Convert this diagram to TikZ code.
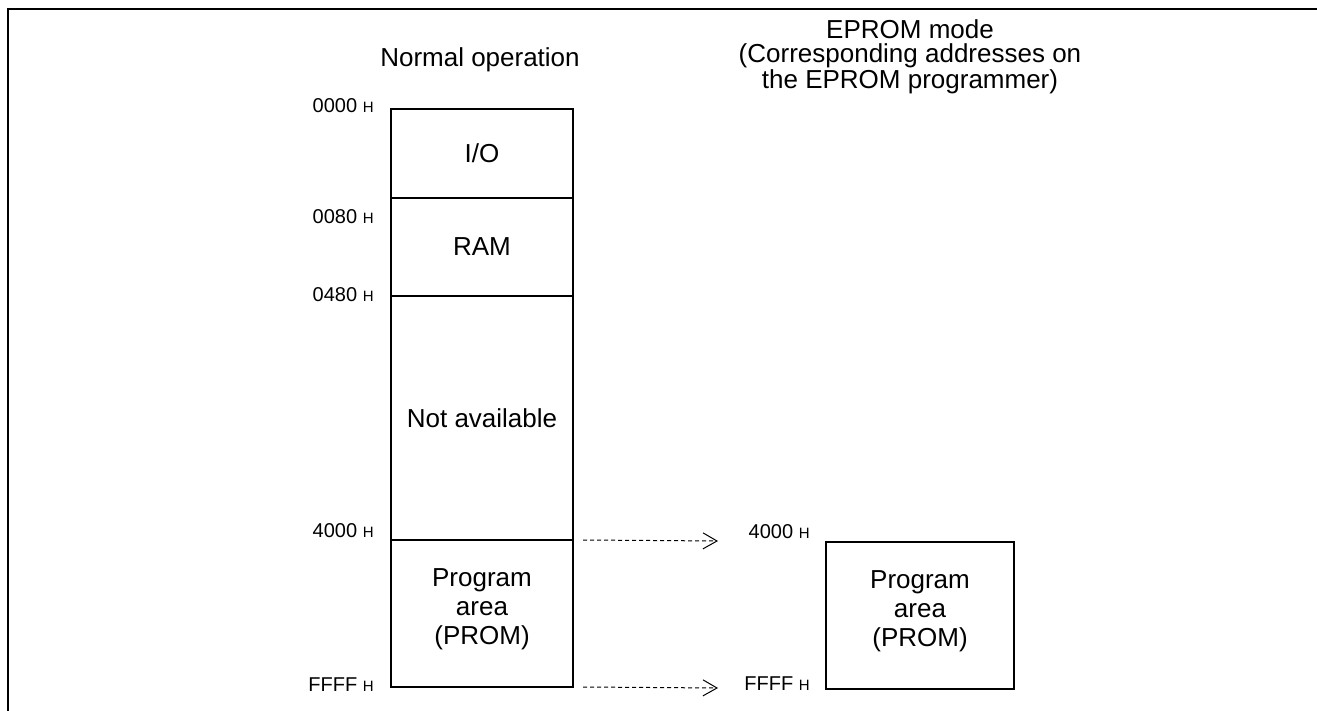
\documentclass[tikz,border=0pt]{standalone}
\usepackage{fontspec}
\setmainfont{Liberation Sans}
\usetikzlibrary{arrows.meta,positioning}
\newcommand{\memaddr}[1]{{\fontsize{10}{12}\selectfont #1}\ {\fontsize{7.5}{8}\selectfont H}}

\begin{document}
\begin{tikzpicture}[x=0.5pt,y=-0.5pt,
    seg/.style={draw,line width=0.6pt,minimum width=91pt,inner sep=0pt,outer sep=0pt},
    txt/.style={align=center,font=\fontsize{13}{14.5}\selectfont},
    addr/.style={anchor=east,inner sep=0pt},
    ptr/.style={-{Straight Barb[length=7pt,width=8pt]},line width=0.5pt,dash pattern=on 2pt off 1.5pt}]
  \useasboundingbox (0,0) rectangle (1317,711);
  \draw[line width=1.3pt] (8,730) -- (8,9) -- (1340,9);
  % normal operation
  \node[txt] (normal) at (480,60) {Normal operation};
  \node[seg,minimum height=44.5pt] (io) at (482,153.5) {};
  \node[seg,minimum height=49pt,below=0pt of io] (ram) {};
  \node[seg,minimum height=122pt,below=0pt of ram] (na) {};
  \node[seg,minimum height=73.5pt,below=0pt of na] (prog) {};
  \draw[line width=1.2pt] (io.north west) rectangle (prog.south east);
  \node[txt] at (io) {I/O};
  \node[txt] at (ram) {RAM};
  \node[txt] at (na) {Not available};
  \node[txt] at ([yshift=2pt]prog.center) {Program\\area\\(PROM)};
  \node[addr] (a0000) at (374,106) {\memaddr{0000}};
  \node[addr] (a0080) at (374,217) {\memaddr{0080}};
  \node[addr] (a0480) at (374,295) {\memaddr{0480}};
  \node[addr] (a4000) at (374,531) {\memaddr{4000}};
  \node[addr] (affff) at (374,685) {\memaddr{FFFF}};
  % EPROM mode
  \node[txt,font=\fontsize{13}{11.75}\selectfont] (eprommode) at (910,57) {EPROM mode\\(Corresponding addresses on\\the EPROM programmer)};
  \node[seg,line width=1.2pt,minimum width=94pt,minimum height=73.5pt] (eprom) at (920,615.5) {};
  \node[txt] at ([yshift=2pt]eprom.center) {Program\\area\\(PROM)};
  \node[addr] (e4000) at (810,532) {\memaddr{4000}};
  \node[addr] (effff) at (810,684) {\memaddr{FFFF}};
  % address mapping
  \coordinate (t4000) at (718,541);
  \coordinate (tffff) at (718,688);
  \draw[ptr] ([xshift=5pt]prog.north east) -- (t4000);
  \draw[ptr] ([xshift=5pt]prog.south east) -- (tffff);
\end{tikzpicture}
\end{document}
